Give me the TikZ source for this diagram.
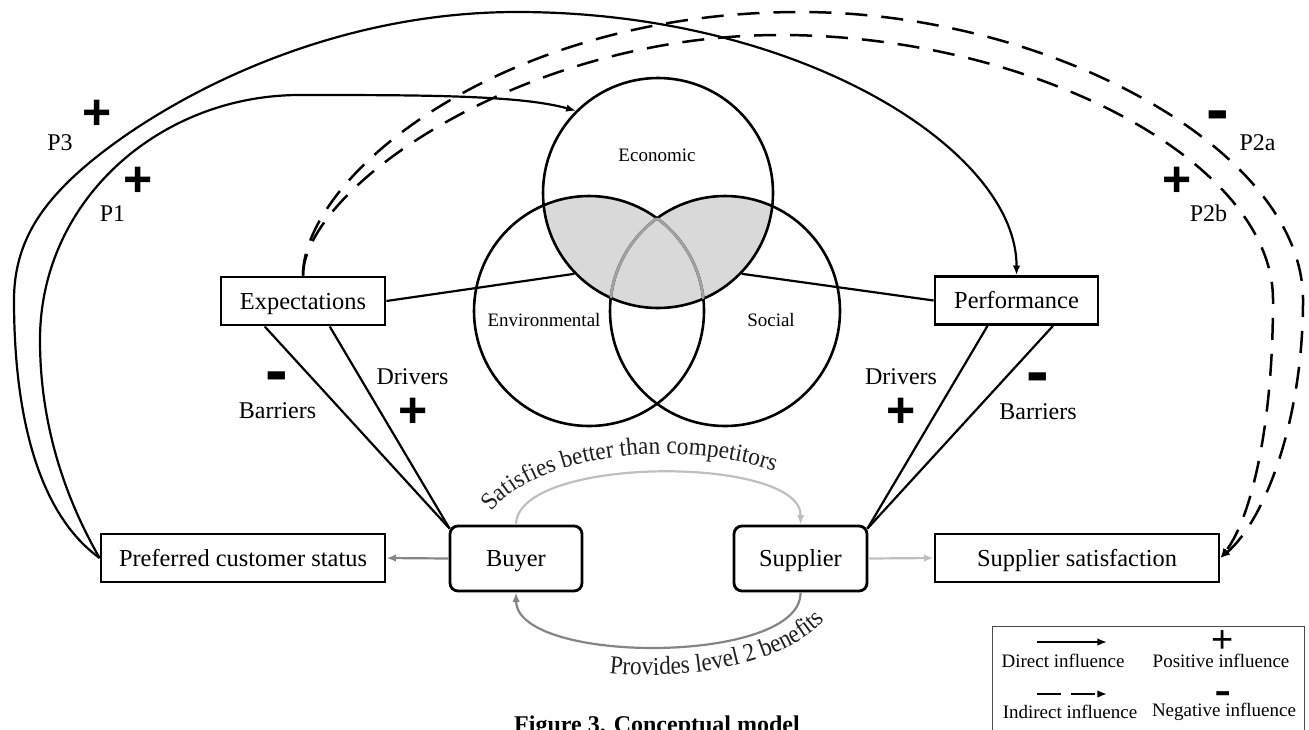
\documentclass[tikz,border=0pt]{standalone}
\usepackage{fontspec}
\setmainfont{Liberation Serif}
\newfontfamily\mysignfamily{Liberation Sans}
\newfontfamily\myarcupfamily{Liberation Serif}[FakeStretch=0.94]
\newfontfamily\myarclowfamily{Liberation Serif}[FakeStretch=0.9]
\usetikzlibrary{arrows.meta,decorations.text,calc}
\newcommand\myboxfont{\fontsize{12.2}{14}\selectfont}
\newcommand\mylblfont{\fontsize{12}{14}\selectfont}
\newcommand\mycircfont{\fontsize{9.5}{11}\selectfont}
\newcommand\mylegfont{\fontsize{9.5}{11}\selectfont}
\newcommand\myarcupfont{\myarcupfamily\fontsize{12.4}{14}\selectfont}
\newcommand\myarclowfont{\myarclowfamily\fontsize{12.9}{14}\selectfont}
\newcommand\myplusfont{\mysignfamily\bfseries\fontsize{25}{28}\selectfont}
\newcommand\myminusfont{\mysignfamily\bfseries\fontsize{34}{38}\selectfont}
\newcommand\mysmallplusfont{\mysignfamily\fontsize{19}{22}\selectfont}
\newcommand\mysmallminusfont{\mysignfamily\fontsize{26}{30}\selectfont}
\definecolor{lightarr}{gray}{0.75}
\definecolor{midarr}{gray}{0.52}
\definecolor{shadefill}{gray}{0.85}
\definecolor{innerarc}{gray}{0.64}
\definecolor{legline}{gray}{0.3}
\definecolor{arctext}{gray}{0.12}
\tikzset{
  box/.style={draw, line width=1.4pt, minimum height=24pt, inner sep=0pt, fill=white,
              font=\myboxfont, text height=8.5pt, text depth=0.5pt},
  rbox/.style={box, rounded corners=4pt, minimum height=32.5pt},
  circ/.style={circle, draw, line width=1.3pt, minimum size=115pt, inner sep=0pt},
  link/.style={line width=1.1pt},
  tip/.style={-{Latex[length=4.8pt,width=3.8pt]}},
  direct/.style={line width=1.1pt, tip},
  indirect/.style={line width=1.25pt, dash pattern=on 11pt off 7pt, tip},
  lightarrow/.style={line width=1.1pt, draw=lightarr, tip},
  midarrow/.style={line width=1.1pt, draw=midarr, tip},
  lbl/.style={font=\mylblfont, inner sep=0pt},
  circlbl/.style={font=\mycircfont, inner sep=0pt},
  leglbl/.style={font=\mylegfont, inner sep=0pt},
  plussign/.style={font=\myplusfont, inner sep=0pt},
  minussign/.style={font=\myminusfont, inner sep=0pt, yshift=-3.3pt},
  smallplus/.style={font=\mysmallplusfont, inner sep=0pt},
  smallminus/.style={font=\mysmallminusfont, inner sep=0pt, yshift=-3pt},
}
\begin{document}
\begin{tikzpicture}[x=0.5pt, y=-0.5pt]
\useasboundingbox (0,0) rectangle (1309,729);
\clip (0,0) rectangle (1309,729);

% --- Venn diagram ---
\coordinate (econC) at (658,193);
\coordinate (envC) at (589,311);
\coordinate (socC) at (725,311);
\begin{scope}
  \clip (econC) circle (57.5pt);
  \fill[shadefill] (envC) circle (57.5pt) (socC) circle (57.5pt);
\end{scope}
\node[circ] (econ) at (econC) {};
\node[circ] (env) at (envC) {};
\node[circ] (soc) at (socC) {};
\begin{scope}
  \clip (econC) circle (57.5pt);
  \clip (socC) circle (57.5pt);
  \draw[innerarc, line width=1.3pt] (envC) circle (57.5pt);
\end{scope}
\begin{scope}
  \clip (econC) circle (57.5pt);
  \clip (envC) circle (57.5pt);
  \draw[innerarc, line width=1.3pt] (socC) circle (57.5pt);
\end{scope}
\node[circlbl] (econlbl) at (657,155.5) {Economic};
\node[circlbl] (envlbl) at (544,320) {Environmental};
\node[circlbl] (soclbl) at (771,320) {Social};

% --- boxes ---
\node[box, minimum width=82pt] (exp) at (303,301) {Expectations};
\node[box, minimum width=81.5pt] (perf) at (1016.5,300.5) {Performance};
\node[box, minimum width=142pt] (pcs) at (243,558) {Preferred customer status};
\node[rbox, minimum width=66pt] (buyer) at (516,558.5) {Buyer};
\node[rbox, minimum width=66.5pt] (supp) at (800.5,558.5) {Supplier};
\node[box, minimum width=142pt] (ss) at (1077,558) {Supplier satisfaction};

% --- links to the Venn diagram ---
\draw[link] (exp.east) -- (econ.224);
\draw[link] (perf.west) -- (econ.316);

% --- drivers / barriers ---
\draw[link] ($(exp.south west)!0.27!(exp.south east)$) -- ($(buyer.north west)+(1,4)$);
\draw[link] ($(exp.south west)!0.66!(exp.south east)$) -- ($(buyer.north west)+(1,4)$);
\draw[link] ($(perf.south west)!0.325!(perf.south east)$) -- ($(supp.north east)+(-1,4)$);
\draw[link] ($(perf.south west)!0.72!(perf.south east)$) -- ($(supp.north east)+(-1,4)$);

% --- P3 and P1 ---
\draw[direct] (pcs.west) .. controls (40,515) and (14,420) .. (14,300)
  .. controls (14,245) and (40,210) .. (67,183)
  .. controls (127,123) and (300,12) .. (517,12)
  .. controls (800,12) and (1017,150) .. (perf.north);
\draw[direct] (pcs.west) .. controls (75,515) and (40,440) .. (40,340)
  .. controls (40,200) and (160,95) .. (300,95)
  .. controls (420,95) and (520,95) .. (econ.135);

% --- P2a and P2b ---
\draw[indirect] (exp.north) .. controls (303,177) and (500,12) .. (800,12)
  .. controls (1050,12) and (1303,150) .. (1303,300)
  .. controls (1303,420) and (1265,520) .. (ss.east);
\draw[indirect] (exp.north) .. controls (303,190) and (520,35) .. (780,35)
  .. controls (1030,35) and (1273,160) .. (1273,300)
  .. controls (1273,430) and (1250,520) .. (ss.east);

% --- buyer / supplier relations ---
\draw[midarrow] (buyer.west) -- (pcs.east);
\draw[lightarrow] (supp.east) -- (ss.west);
\draw[lightarrow] (buyer.north) .. controls (517,455) and (802,455) .. (supp.north);
\draw[midarrow] (supp.south) .. controls (802,665) and (517,665) .. (buyer.south);

\path[decorate, decoration={text along path, text align=center,
    text color=arctext, text={|\myarcupfont|Satisfies better than competitors}}]
  plot[domain=0:1, samples=90] ({665+185*cos(172-126*\x)}, {542-88*sin(172-126*\x)});
\path[decorate, decoration={text along path, text align=center,
    text color=arctext, text={|\myarclowfont|Provides level 2 benefits}}]
  plot[domain=0:1, samples=90] ({650+190*cos(106.6-91.3*\x)}, {585+90*sin(106.6-91.3*\x)});

% --- signs and labels ---
\node[plussign] (p3s) at (97.5,115) {+};
\node[lbl] (p3) at (60,143) {P3};
\node[plussign] (p1s) at (138.5,181.5) {+};
\node[lbl] (p1) at (112.5,214) {P1};
\node[minussign] (p2as) at (1217.5,115.5) {-};
\node[lbl] (p2a) at (1257.5,143) {P2a};
\node[plussign] (p2bs) at (1177,182) {+};
\node[lbl] (p2b) at (1208.5,213.5) {P2b};
\node[minussign] (lbm) at (276.5,376.5) {-};
\node[lbl] (lb) at (277.5,411) {Barriers};
\node[lbl] (ld) at (412.5,377) {Drivers};
\node[plussign] (ldp) at (413,413) {+};
\node[lbl] (rd) at (901,377) {Drivers};
\node[plussign] (rdp) at (901.5,413) {+};
\node[minussign] (rbm) at (1037.5,377.5) {-};
\node[lbl] (rb) at (1038,411.5) {Barriers};

% --- legend ---
\node[draw=legline, line width=0.6pt, minimum width=156pt, minimum height=60pt,
      inner sep=0pt, anchor=north west] (legend) at (992,626) {};
\coordinate (ldA) at (1037,642);
\coordinate (ldB) at (1107,642);
\draw[direct] (ldA) -- (ldB);
\coordinate (liA) at (1037,694);
\coordinate (liB) at (1107,694);
\draw[line width=1.2pt, dash pattern=on 12pt off 5pt, tip] (liA) -- (liB);
\node[leglbl] (legd) at (1063,661) {Direct influence};
\node[leglbl] (legi) at (1070,712) {Indirect influence};
\node[smallplus] (legps) at (1223,642) {+};
\node[leglbl] (legp) at (1221,661) {Positive influence};
\node[smallminus] (legns) at (1223,694) {-};
\node[leglbl] (legn) at (1224,712) {Negative influence};

% --- caption ---
\node[font=\bfseries\fontsize{12}{14}\selectfont, anchor=base, inner sep=0pt] (cap)
  at (657,732) {Figure 3. Conceptual model};
\end{tikzpicture}
\end{document}
